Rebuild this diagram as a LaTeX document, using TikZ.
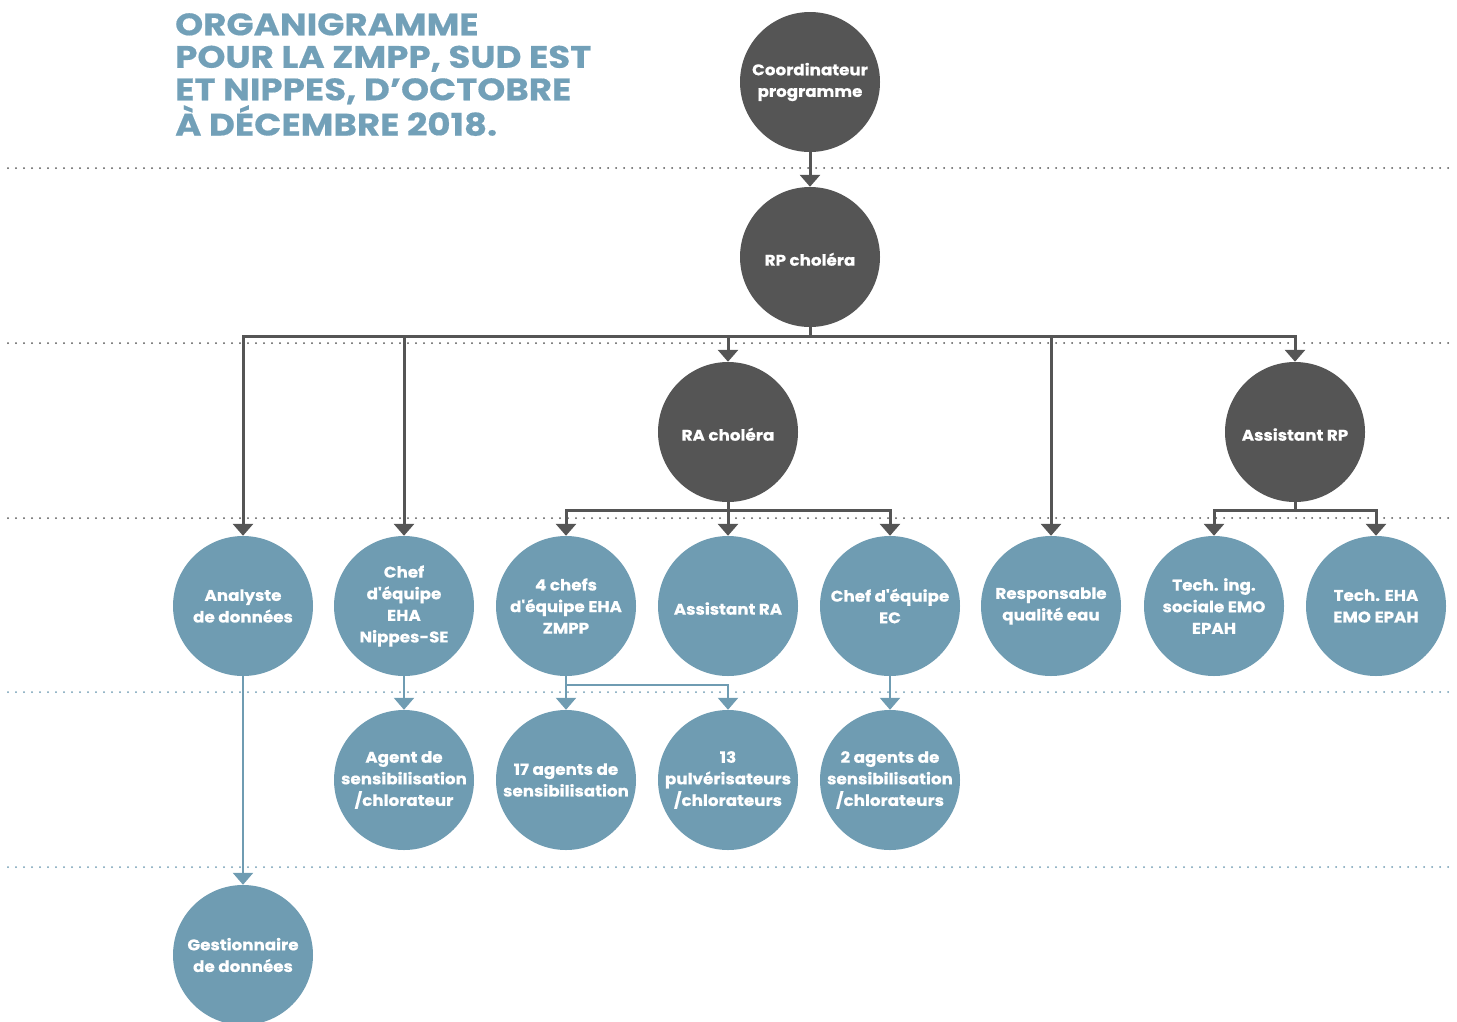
\documentclass[tikz,border=0pt]{standalone}
\usepackage{fontspec}
\setmainfont{Poppins}
\newfontfamily\titlefont{Poppins}[FakeStretch=1.15, BoldFeatures={FakeBold=0.5}]
\newfontfamily\circfont{Poppins}[FakeStretch=1.08, BoldFeatures={FakeBold=0.5}]
\usetikzlibrary{arrows.meta}
\definecolor{dgray}{HTML}{555555}
\definecolor{bblue}{HTML}{6F9CB2}
\definecolor{tblue}{HTML}{72A0B8}
\begin{document}
\begin{tikzpicture}[x=1pt,y=-1pt,
  circ/.style={circle, minimum size=140pt, inner sep=0pt, text=white, align=center,
    font=\circfont\bfseries\fontsize{15.5}{21.6}\selectfont,
    execute at begin node={\rule{0pt}{17.5pt}}},
  darkc/.style={circ, fill=dgray},
  bluec/.style={circ, fill=bblue},
  dline/.style={draw=dgray, line width=3pt},
  darr/.style={dline, -{Triangle[width=20pt,length=12pt]}},
  bline/.style={draw=bblue, line width=2.5pt},
  barr/.style={bline, -{Triangle[width=20pt,length=12pt]}},
  ddots/.style={draw=dgray, line width=2pt, line cap=round, dash pattern=on 0pt off 8pt},
  bdots/.style={draw=bblue, line width=2pt, line cap=round, dash pattern=on 0pt off 8pt}
]
\path[use as bounding box] (0,0) rectangle (1457,1021);
% dotted separators
\draw[ddots] (8,168) -- (1450,168);
\draw[ddots] (8,343) -- (1450,343);
\draw[ddots] (8,518) -- (1450,518);
\draw[bdots] (8,692) -- (1450,692);
\draw[bdots] (8,867) -- (1450,867);
% title
\node[anchor=north west, align=left, text=tblue, inner sep=0pt,
  font=\titlefont\bfseries\fontsize{31}{32.5}\selectfont] (title) at (175,13)
  {ORGANIGRAMME\\POUR LA ZMPP, SUD EST\\ET NIPPES, D’OCTOBRE\\À DÉCEMBRE 2018.};
% dark circles
\node[darkc] (coord) at (810,82) {Coordinateur\\programme};
\node[darkc] (rp) at (810,257) {RP choléra};
\node[darkc] (ra) at (728,432) {RA choléra};
\node[darkc] (arp) at (1295,432) {Assistant RP};
% row 3
\node[bluec] (an) at (243,606) {Analyste\\de données};
\node[bluec] (ceha) at (404,606) {Chef\\d'équipe\\EHA\\Nippes-SE};
\node[bluec] (chefs) at (566,606) {4 chefs\\d'équipe EHA\\ZMPP};
\node[bluec] (ara) at (728,606) {Assistant RA};
\node[bluec] (cec) at (890,606) {Chef d'équipe\\EC};
\node[bluec] (rqe) at (1051,606) {Responsable\\qualité eau};
\node[bluec] (ting) at (1214,606) {Tech. ing.\\sociale EMO\\EPAH};
\node[bluec] (teha) at (1376,606) {Tech. EHA\\EMO EPAH};
% row 4
\node[bluec] (agent) at (404,780) {Agent de\\sensibilisation\\/chlorateur};
\node[bluec] (a17) at (566,780) {17 agents de\\sensibilisation};
\node[bluec] (p13) at (728,780) {13\\pulvérisateurs\\/chlorateurs};
\node[bluec] (a2) at (890,780) {2 agents de\\sensibilisation\\/chlorateurs};
% row 5
\node[bluec] (gest) at (243,955) {Gestionnaire\\de données};
% dark connectors
\draw[darr] (coord.south) -- (rp.north);
\draw[dline] (rp.south) -- ++(0,9) coordinate (busrp);
\draw[darr] (busrp) -| (an.north);
\draw[darr] (busrp) -| (ceha.north);
\draw[darr] (busrp) -| (ra.north);
\draw[darr] (busrp) -| (rqe.north);
\draw[darr] (busrp) -| (arp.north);
\draw[dline] (ra.south) -- ++(0,8) coordinate (busra);
\draw[darr] (busra) -| (chefs.north);
\draw[darr] (busra) -- (ara.north);
\draw[darr] (busra) -| (cec.north);
\draw[dline] (arp.south) -- ++(0,8) coordinate (busarp);
\draw[darr] (busarp) -| (ting.north);
\draw[darr] (busarp) -| (teha.north);
% blue connectors
\draw[barr] (ceha.south) -- (agent.north);
\draw[bline] (chefs.south) -- ++(0,9) coordinate (busch);
\draw[barr] (busch) -- (a17.north);
\draw[barr] (busch) -| (p13.north);
\draw[barr] (cec.south) -- (a2.north);
\draw[barr] (an.south) -- (gest.north);
\end{tikzpicture}
\end{document}
